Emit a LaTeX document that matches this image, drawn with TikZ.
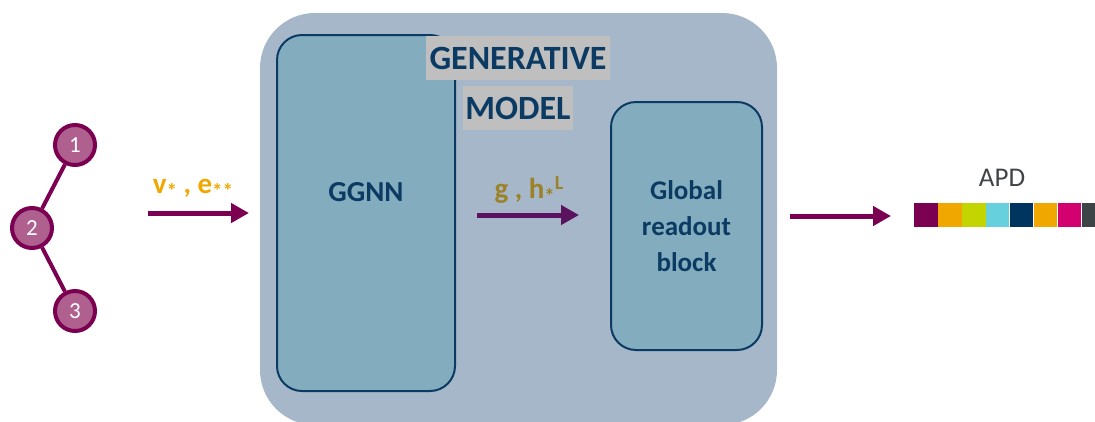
\documentclass[tikz,border=0pt]{standalone}
\usepackage{fontspec}
\setmainfont{Carlito}
\usetikzlibrary{arrows.meta}
\definecolor{slate}{HTML}{A6B7C9}
\definecolor{tealbox}{HTML}{84ACBF}
\definecolor{navy}{HTML}{0B3B63}
\definecolor{plum}{HTML}{7B0051}
\definecolor{nodefill}{HTML}{B0608F}
\definecolor{grape}{HTML}{5B1360}
\definecolor{amber}{HTML}{F0A800}
\definecolor{olive}{HTML}{9C8226}
\definecolor{labelgray}{HTML}{BFBFBF}
\definecolor{darkgray}{HTML}{404446}
\definecolor{lime}{HTML}{C3D500}
\definecolor{cyanish}{HTML}{66D0DC}
\definecolor{deepblue}{HTML}{003560}
\definecolor{magenta}{HTML}{D30070}
\definecolor{charcoal}{HTML}{3C4446}
\newcommand{\substar}{\raisebox{-5pt}{\fontsize{21}{21}\selectfont *}}
\tikzset{
  atom/.style={circle, draw=plum, line width=4pt, fill=nodefill, minimum size=40pt,
    inner sep=0pt, text=white, font=\fontsize{23}{26}\selectfont},
  bond/.style={draw=plum, line width=4pt},
  block/.style={draw=navy, line width=2pt, fill=tealbox, rounded corners=25pt,
    text=navy, font=\bfseries\fontsize{27}{36}\selectfont, align=center},
  flow/.style={line width=5pt, -{Triangle[length=18pt,width=19pt]}},
  tag/.style={fill=labelgray, text=navy, font=\bfseries\fontsize{34}{36}\selectfont,
    inner sep=0pt},
  seg/.style={minimum width=23.5pt, minimum height=24pt, inner sep=0pt, anchor=west}
}
\begin{document}
\begin{tikzpicture}[x=1pt, y=-1pt]
\useasboundingbox (0,0) rectangle (1095,421);
\clip (0,0) rectangle (1095,421);

% generative model container
\node[fill=slate, rounded corners=55pt, minimum width=517pt, minimum height=412pt,
  inner sep=0pt] (gen) at (518.5,219) {};

% inner blocks
\node[block, minimum width=178pt, minimum height=356pt] (ggnn) at (366,213) {};
\node[font=\bfseries\fontsize{29}{34}\selectfont, text=navy] (ggnnlabel) at (366,192) {GGNN};
\node[block, minimum width=151pt, minimum height=248pt] (readout) at (686.5,226)
  {Global\\readout\\block};

% title tags
\node[tag, minimum width=184pt, minimum height=44pt] (title1) at (518,58) {GENERATIVE};
\node[tag, minimum width=110pt, minimum height=44pt] (title2) at (518,108) {MODEL};

% input molecule graph
\node[atom] (a1) at (75,145) {1};
\node[atom] (a2) at (32,228) {2};
\node[atom] (a3) at (75,311) {3};
\draw[bond] (a1) -- (a2);
\draw[bond] (a2) -- (a3);

% flow arrows
\coordinate (in1) at (148,213);
\coordinate (in2) at (249,213);
\draw[flow, plum] (in1) -- (in2);
\node[text=amber, font=\bfseries\fontsize{29}{32}\selectfont, inner sep=0pt] (inlabel) at (193,189)
  {v\substar\ , e\substar\substar};

\coordinate (mid1) at (477,215);
\coordinate (mid2) at (579,215);
\draw[flow, grape] (mid1) -- (mid2);
\node[text=olive, font=\bfseries\fontsize{29}{32}\selectfont, inner sep=0pt] (midlabel) at (529,190)
  {g , h\substar\raisebox{9pt}{\fontsize{20}{20}\selectfont L}};

\coordinate (out1) at (790,216);
\coordinate (out2) at (891,216);
\draw[flow, plum] (out1) -- (out2);

% output distribution
\node[text=darkgray, font=\fontsize{27}{30}\selectfont] (apd) at (1002,178) {APD};
\node[seg, fill=plum] (s1) at (914,215) {};
\node[seg, fill=amber] (s2) at (s1.east) {};
\node[seg, fill=lime] (s3) at (s2.east) {};
\node[seg, fill=cyanish] (s4) at (s3.east) {};
\node[seg, fill=deepblue] (s5) at (s4.east) {};
\node[seg, fill=amber] (s6) at (s5.east) {};
\node[seg, fill=magenta] (s7) at (s6.east) {};
\node[seg, fill=charcoal] (s8) at (s7.east) {};
\end{tikzpicture}
\end{document}
